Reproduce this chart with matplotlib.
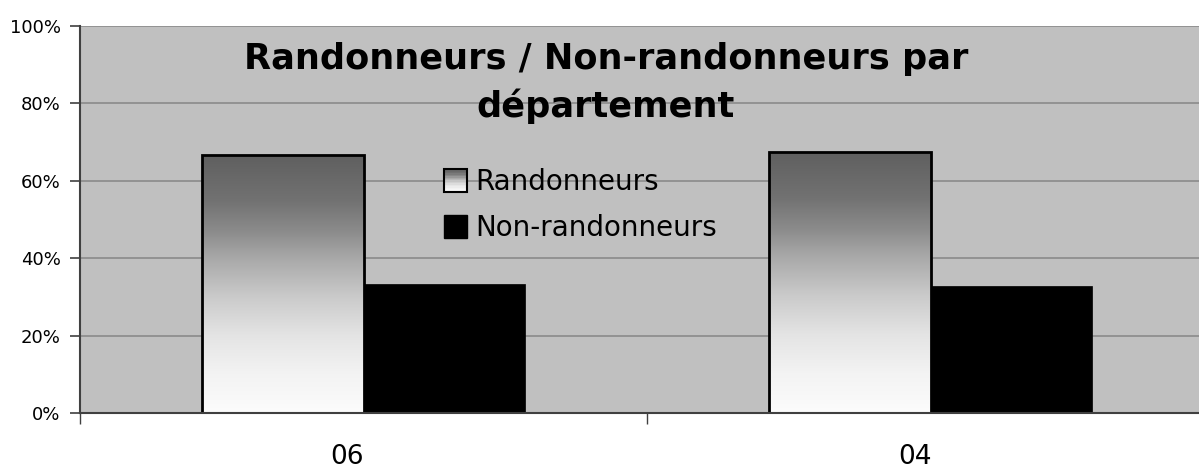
import numpy as np
import matplotlib
matplotlib.use("Agg")
import matplotlib.pyplot as plt
import matplotlib.transforms as mtransforms
from matplotlib.colors import LinearSegmentedColormap
from matplotlib.patches import Rectangle
from matplotlib.legend_handler import HandlerBase

categories = ["06", "04"]
randonneurs = [0.667, 0.675]
non_randonneurs = [0.333, 0.327]
series_names = ["Randonneurs", "Non-randonneurs"]
title = "Randonneurs / Non-randonneurs par\ndépartement"
ytick_values = [0, 0.2, 0.4, 0.6, 0.8, 1.0]

grad_cmap = LinearSegmentedColormap.from_list(
    "grad",
    [(0.0, (252/255,)*3), (0.15, (243/255,)*3), (0.3, (228/255,)*3),
     (0.45, (202/255,)*3), (0.6, (168/255,)*3), (0.7, (140/255,)*3),
     (0.82, (114/255,)*3), (1.0, (95/255,)*3)])

W, H = 1199, 468
fig = plt.figure(figsize=(W/100, H/100), dpi=100)
left, right, top, bottom = 80, 1214, 26, 413
ax = fig.add_axes([left/W, 1 - bottom/H, (right-left)/W, (bottom-top)/H])
ax.set_facecolor("#c0c0c0")

x = np.arange(len(categories))
bw = 0.284
bars_r = ax.bar(x - bw/2, randonneurs, bw, facecolor="none", edgecolor="black",
                linewidth=2, zorder=3, label=series_names[0])
bars_n = ax.bar(x + bw/2, non_randonneurs, bw, facecolor="black", edgecolor="black",
                linewidth=0.5, zorder=3, label=series_names[1])

grad = np.linspace(0, 1, 256).reshape(-1, 1)
for b in bars_r:
    x0, y0, w, h = b.get_x(), b.get_y(), b.get_width(), b.get_height()
    im = ax.imshow(grad, cmap=grad_cmap, origin="lower", aspect="auto",
                   extent=[x0, x0 + w, y0, y0 + h], zorder=2.5)
    im.set_clip_path(Rectangle((x0, y0), w, h, transform=ax.transData))

ax.set_xlim(-0.5, len(categories) - 0.5)
ax.set_ylim(0, 1.0)
ax.set_yticks(ytick_values)
ax.set_yticklabels([f"{int(round(v*100))}%" for v in ytick_values], fontsize=13)
ax.yaxis.grid(True, color="#8a8a8a", linewidth=1.2)
ax.set_axisbelow(True)
ax.tick_params(axis="y", length=7, width=1.2, color="#404040", pad=7)

ax.set_xticks(x)
ax.set_xticklabels(categories, fontsize=19)
ax.tick_params(axis="x", length=0, pad=22)
offset = mtransforms.ScaledTranslation(-16/100, 0, fig.dpi_scale_trans)
for lab in ax.get_xticklabels():
    lab.set_transform(lab.get_transform() + offset)
ax.set_xticks(np.arange(len(categories) + 1) - 0.5, minor=True)
ax.tick_params(axis="x", which="minor", length=8, width=1, color="#404040")

for s in ["top", "right"]:
    ax.spines[s].set_visible(False)
ax.spines["left"].set_color("#404040")
ax.spines["left"].set_linewidth(1.5)
ax.spines["bottom"].set_color("#404040")
ax.spines["bottom"].set_linewidth(1.5)
ax.spines["bottom"].set_zorder(4)

ax.text((606 - left)/(right - left), 0.958, title, transform=ax.transAxes,
        ha="center", va="top", fontsize=25.3, fontweight="bold",
        linespacing=1.42, zorder=5)


class GradHandler(HandlerBase):
    def create_artists(self, legend, orig_handle, xdescent, ydescent, width,
                       height, fontsize, trans):
        n = 16
        arts = []
        size = height * 1.18
        x0 = -xdescent
        y0 = -ydescent - 0.1 * height
        for i in range(n):
            c = grad_cmap((i + 0.5) / n)
            arts.append(Rectangle((x0, y0 + i*size/n), size, size/n + 0.01,
                                  facecolor=c, edgecolor="none", transform=trans))
        arts.append(Rectangle((x0, y0), size, size, facecolor="none",
                              edgecolor="black", linewidth=1.5, transform=trans))
        return arts


class SquareHandler(HandlerBase):
    def create_artists(self, legend, orig_handle, xdescent, ydescent, width,
                       height, fontsize, trans):
        size = height * 1.18
        x0 = -xdescent
        y0 = -ydescent - 0.1 * height
        return [Rectangle((x0, y0), size, size, facecolor="black",
                          edgecolor="black", transform=trans)]


leg = ax.legend([bars_r, bars_n], series_names, loc="upper left",
                bbox_to_anchor=((444 - left)/(right - left), (bottom - 168)/(bottom - top)),
                frameon=False, fontsize=20, handlelength=0.9, handletextpad=0.22,
                labelspacing=0.66, borderaxespad=0, borderpad=0,
                handler_map={bars_r: GradHandler(), bars_n: SquareHandler()})
leg.set_zorder(6)

fig.savefig("out.png", dpi=100)
